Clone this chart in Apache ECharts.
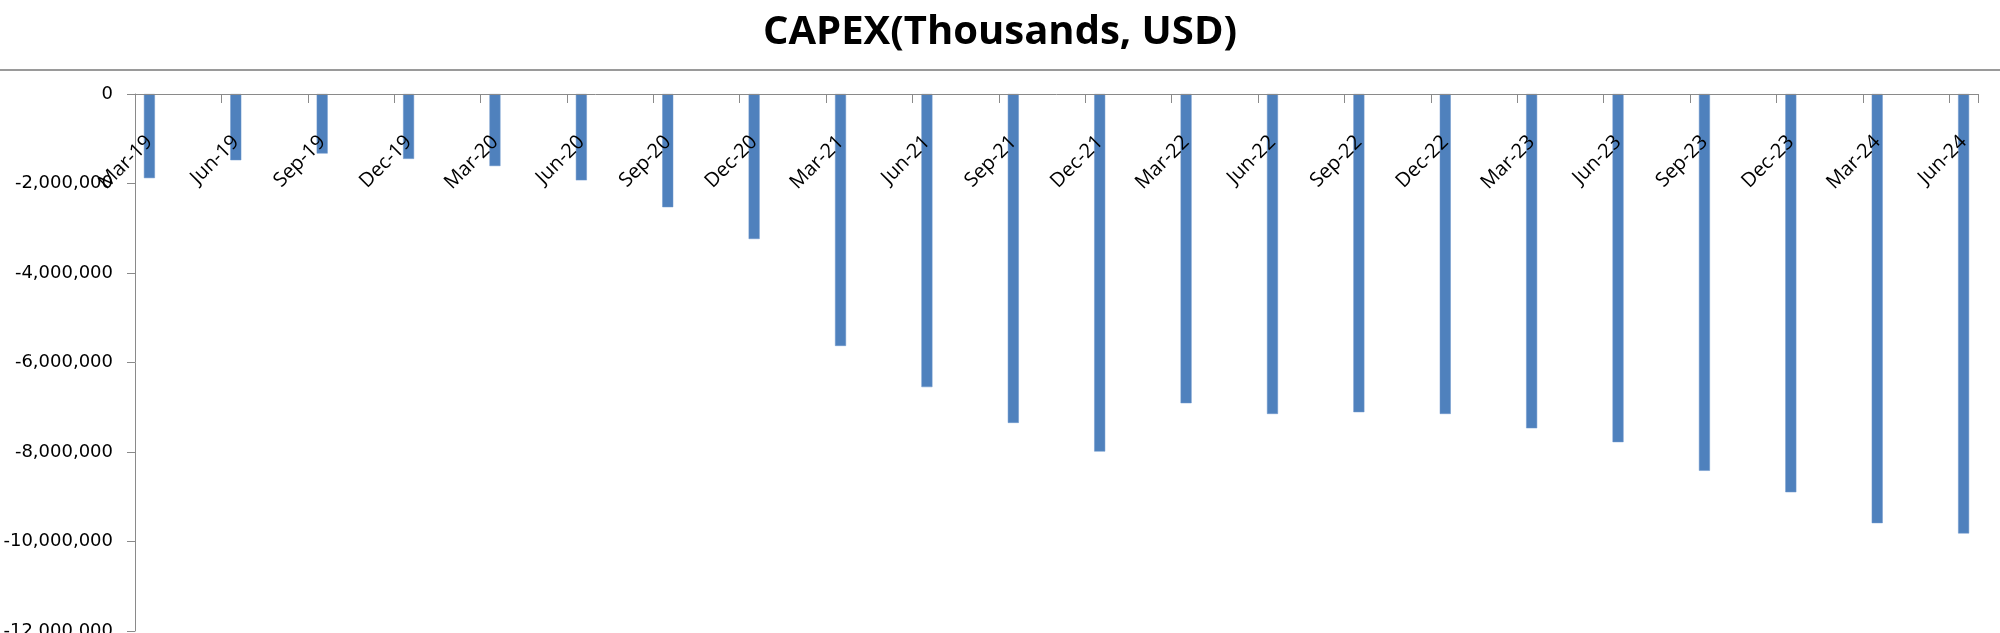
<!DOCTYPE html>
<html>
<head>
<meta charset="utf-8">
<script src="https://cdn.jsdelivr.net/npm/echarts@6/dist/echarts.min.js"></script>
<style>
  html, body { margin: 0; padding: 0; background: #ffffff; }
  #chart { width: 2000px; height: 633px; }
</style>
</head>
<body>
<div id="chart"></div>
<script>
// Quarter-end categories (tick labels)
const quarterLabels = [
  'Mar-19','Jun-19','Sep-19','Dec-19',
  'Mar-20','Jun-20','Sep-20','Dec-20',
  'Mar-21','Jun-21','Sep-21','Dec-21',
  'Mar-22','Jun-22','Sep-22','Dec-22',
  'Mar-23','Jun-23','Sep-23','Dec-23',
  'Mar-24','Jun-24'
];
// CAPEX, thousands of USD
const capexValues = [
  -1880000, -1480000, -1330000, -1450000,
  -1610000, -1930000, -2530000, -3240000,
  -5630000, -6550000, -7350000, -7990000,
  -6910000, -7150000, -7110000, -7150000,
  -7470000, -7780000, -8420000, -8900000,
  -9590000, -9820000
];
// Value-axis ticks
const yTicks = { min: -12000000, max: 0, interval: 2000000 };
const chartTitle = 'CAPEX(Thousands, USD)';

// The source uses a monthly date axis: each quarter occupies one month slot,
// the two months in between are empty slots.
const monthCats = [];
const monthVals = [];
quarterLabels.forEach((q, i) => {
  monthCats.push(q);
  monthVals.push(capexValues[i]);
  if (i < quarterLabels.length - 1) {
    monthCats.push(q + ' +1'); monthVals.push(null);
    monthCats.push(q + ' +2'); monthVals.push(null);
  }
});

const W = 2000, H = 633;
const gridTop = 94, gridBottom = 2;
const axisGrey = '#8a8a8a';
const chart = echarts.init(document.getElementById('chart'), null, { renderer: 'canvas' });
chart.setOption({
  animation: false,
  backgroundColor: '#ffffff',
  title: {
    text: chartTitle,
    left: 'center',
    top: 8,
    textStyle: { fontFamily: 'Open Sans', fontWeight: 'bold', fontSize: 40, color: '#000000' }
  },
  graphic: [
    { type: 'line', shape: { x1: 0, y1: 70, x2: W, y2: 70 }, style: { stroke: '#9a9a9a', lineWidth: 2 }, silent: true }
  ],
  grid: { left: 135, right: 22, top: gridTop, bottom: gridBottom, containLabel: false, outerBoundsMode: 'none' },
  xAxis: {
    type: 'category',
    data: monthCats,
    boundaryGap: true,
    position: 'bottom',
    z: 10,
    // value 0 is the top edge of the plot: lift the whole axis (line, ticks, labels) there
    offset: -(H - gridTop - gridBottom),
    axisLine: { show: true, onZero: false, lineStyle: { color: axisGrey, width: 1 } },
    axisTick: { show: true, interval: 2, length: 9, alignWithLabel: false, lineStyle: { color: axisGrey } },
    axisLabel: {
      interval: 2,
      rotate: 45,
      margin: 45,
      fontFamily: 'Open Sans',
      fontSize: 20,
      color: '#000000'
    },
    splitLine: { show: false }
  },
  yAxis: {
    type: 'value',
    min: yTicks.min,
    max: yTicks.max,
    interval: yTicks.interval,
    axisLine: { show: true, lineStyle: { color: axisGrey, width: 1 } },
    axisTick: { show: true, length: 8, lineStyle: { color: axisGrey } },
    axisLabel: {
      margin: 22,
      fontFamily: 'DejaVu Sans',
      fontSize: 18,
      color: '#000000',
      formatter: v => v.toLocaleString('en-US')
    },
    splitLine: { show: false }
  },
  series: [{
    type: 'bar',
    data: monthVals,
    barWidth: 11,
    itemStyle: { color: '#4F81BD', borderColor: '#6d97cc', borderWidth: 0.5 }
  }]
});
</script>
</body>
</html>
